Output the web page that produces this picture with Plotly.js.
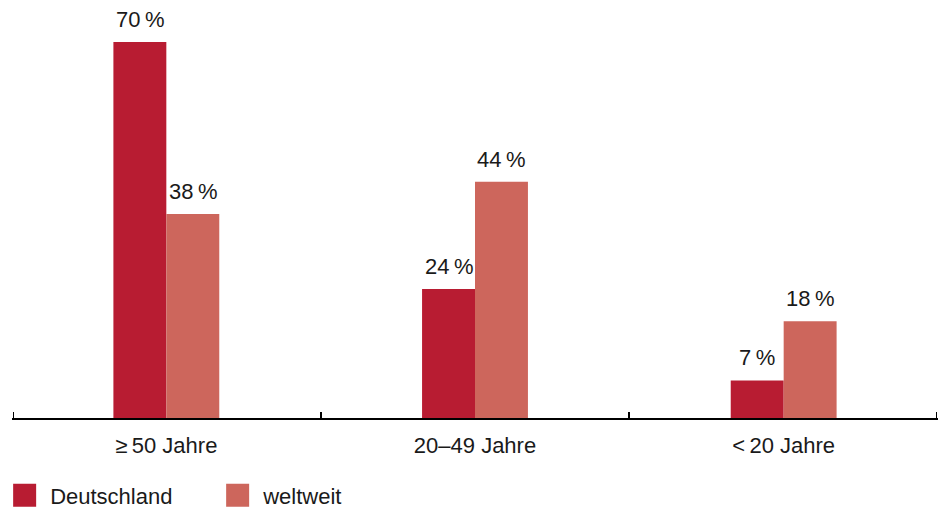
<!DOCTYPE html>
<html>
<head>
<meta charset="utf-8">
<script src="https://cdn.plot.ly/plotly-3.0.1.min.js"></script>
<style>html,body{margin:0;padding:0;background:#fff;}#chart{width:950px;height:508px;}</style>
</head>
<body>
<div id="chart"></div>
<script>
const categories = ['\u2265\u200950 Jahre', '20\u201349 Jahre', '<\u200920 Jahre'];
const deutschland = [70, 24, 7];
const weltweit = [38, 44, 18];
const seriesNames = ['Deutschland', 'weltweit'];
const colors = ['#B81C32', '#CD665C'];

const font = {family: 'Liberation Sans, Arial, sans-serif', size: 22, color: '#1a1a1a'};
const bargap = 0.657;
const barOffsetPx = (1 - bargap) / 4 * (926 / 3);

const series = [deutschland, weltweit];
const traces = series.map((vals, i) => ({
  type: 'bar',
  x: categories,
  y: vals,
  name: seriesNames[i],
  marker: {color: colors[i]},
  hoverinfo: 'skip'
}));

// category boundaries (for the tick marks between/around the groups)
const boundaries = categories.map((c, i) => i).concat([categories.length]);

// invisible helper trace so that the boundary-tick axis is drawn
traces.push({
  type: 'scatter', mode: 'lines', xaxis: 'x2', yaxis: 'y',
  x: [boundaries[0], boundaries[boundaries.length - 1]], y: [0, 0],
  line: {width: 0, color: 'rgba(0,0,0,0)'}, showlegend: false, hoverinfo: 'skip'
});

const annotations = [];
series.forEach((vals, i) => {
  vals.forEach((v, j) => {
    annotations.push({
      x: categories[j], y: v, xref: 'x', yref: 'y',
      text: v + '\u2009%', showarrow: false,
      xanchor: 'center', yanchor: 'bottom',
      xshift: (i === 0 ? -1 : 1) * barOffsetPx,
      yshift: 8,
      font: font
    });
  });
});

const layout = {
  width: 950, height: 508,
  margin: {l: 12, r: 12, t: 0, b: 90, autoexpand: false},
  paper_bgcolor: '#fff', plot_bgcolor: '#fff',
  font: font,
  barmode: 'group',
  bargap: bargap,
  bargroupgap: 0,
  showlegend: true,
  annotations: annotations,
  legend: {orientation: 'h', x: -0.002, xanchor: 'left', y: -0.135, yanchor: 'top',
           font: font, entrywidth: 168, entrywidthmode: 'pixels', traceorder: 'normal'},
  xaxis: {
    type: 'category', range: [-0.5, 2.5],
    showline: true, linecolor: '#000', linewidth: 1.5,
    ticks: '', ticklabelstandoff: 7,
    showgrid: false, zeroline: false, tickfont: font
  },
  xaxis2: {
    overlaying: 'x', anchor: 'y', side: 'bottom',
    range: [-0.005, categories.length + 0.005], tickmode: 'array', tickvals: boundaries,
    ticks: 'inside', ticklen: 6, tickcolor: '#000', tickwidth: 1.5,
    showticklabels: false, showline: false, showgrid: false, zeroline: false
  },
  yaxis: {range: [0, 77.82], visible: false, showgrid: false, zeroline: false}
};

Plotly.newPlot('chart', traces, layout, {displayModeBar: false, staticPlot: true}).then(() => {
  document.querySelectorAll('.legendpoints path').forEach(p => {
    if (p.closest('.traces') && p.closest('.traces').textContent.trim() !== '') {
      p.setAttribute('d', 'M6,11.5H-17V-11.5H6Z');
    }
  });
});
</script>
</body>
</html>
